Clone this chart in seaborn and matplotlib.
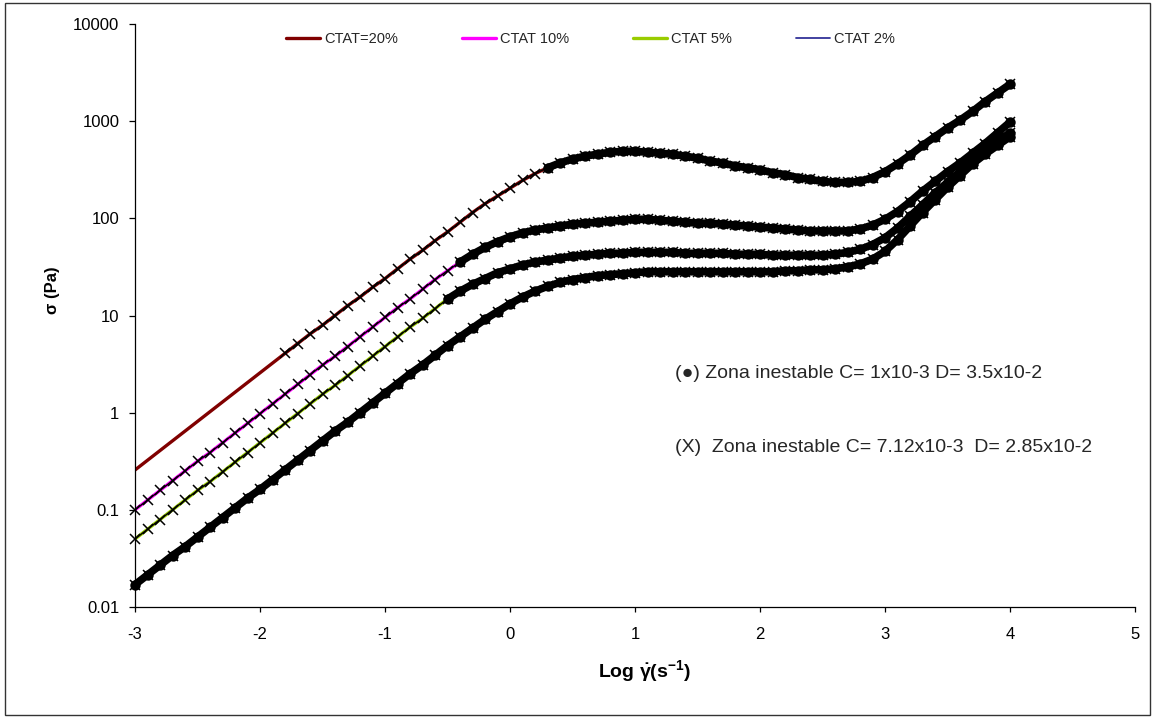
import numpy as np
import pandas as pd
import matplotlib
matplotlib.use('Agg')
import matplotlib.pyplot as plt
import seaborn as sns
from matplotlib.patches import Rectangle
from matplotlib.ticker import FixedLocator, NullLocator

# Log del gradiente de cizalla (eje x), paso 0.1
log_rate = np.round(np.linspace(-3.0, 4.0, 71), 1)

# log10(sigma), de -3.0 a 4.0
log_sigma_20 = [-0.59, -0.49, -0.39, -0.29, -0.19, -0.09, 0.01, 0.11, 0.21, 0.31,
                0.41, 0.51, 0.61, 0.71, 0.81, 0.90, 1.00, 1.10, 1.19, 1.29,
                1.38, 1.48, 1.58, 1.67, 1.77, 1.86, 1.96, 2.06, 2.15, 2.23,
                2.31, 2.39, 2.46, 2.52, 2.57, 2.61, 2.64, 2.66, 2.68, 2.69,
                2.69, 2.68, 2.67, 2.66, 2.64, 2.62, 2.59, 2.57, 2.54, 2.52,
                2.50, 2.47, 2.45, 2.42, 2.40, 2.38, 2.37, 2.37, 2.38, 2.42,
                2.48, 2.56, 2.65, 2.75, 2.84, 2.93, 3.01, 3.10, 3.20, 3.29,
                3.38]
log_sigma_10 = [-1.00, -0.90, -0.80, -0.70, -0.60, -0.50, -0.41, -0.31, -0.21, -0.11,
                -0.01, 0.09, 0.19, 0.29, 0.39, 0.49, 0.58, 0.68, 0.78, 0.88,
                0.98, 1.08, 1.17, 1.27, 1.37, 1.46, 1.55, 1.63, 1.70, 1.76,
                1.81, 1.85, 1.88, 1.90, 1.92, 1.94, 1.95, 1.96, 1.97, 1.98,
                1.99, 1.99, 1.98, 1.97, 1.96, 1.95, 1.95, 1.94, 1.93, 1.92,
                1.91, 1.90, 1.89, 1.88, 1.87, 1.87, 1.87, 1.87, 1.89, 1.93,
                1.99, 2.07, 2.17, 2.28, 2.38, 2.48, 2.57, 2.67, 2.77, 2.88,
                2.99]
log_sigma_5 = [-1.30, -1.20, -1.10, -1.00, -0.90, -0.80, -0.71, -0.61, -0.51, -0.41,
               -0.31, -0.21, -0.11, -0.01, 0.09, 0.19, 0.28, 0.38, 0.48, 0.58,
               0.68, 0.78, 0.88, 0.97, 1.07, 1.17, 1.25, 1.32, 1.38, 1.44,
               1.48, 1.52, 1.55, 1.57, 1.59, 1.61, 1.62, 1.63, 1.64, 1.64,
               1.65, 1.65, 1.65, 1.65, 1.64, 1.64, 1.64, 1.64, 1.63, 1.63,
               1.63, 1.62, 1.62, 1.62, 1.62, 1.62, 1.63, 1.65, 1.68, 1.73,
               1.80, 1.90, 2.02, 2.14, 2.26, 2.37, 2.48, 2.59, 2.69, 2.79,
               2.88]
log_sigma_2 = [-1.77, -1.67, -1.57, -1.47, -1.38, -1.28, -1.18, -1.08, -0.98, -0.88,
               -0.79, -0.69, -0.59, -0.49, -0.39, -0.29, -0.19, -0.10, 0.00, 0.10,
               0.20, 0.30, 0.40, 0.49, 0.59, 0.69, 0.78, 0.87, 0.96, 1.04,
               1.12, 1.19, 1.25, 1.30, 1.34, 1.37, 1.39, 1.41, 1.42, 1.43,
               1.44, 1.45, 1.45, 1.45, 1.45, 1.45, 1.45, 1.45, 1.45, 1.45,
               1.45, 1.45, 1.46, 1.46, 1.47, 1.47, 1.48, 1.50, 1.53, 1.58,
               1.66, 1.78, 1.92, 2.06, 2.19, 2.32, 2.44, 2.56, 2.66, 2.75,
               2.84]

series_labels = ['CTAT=20%', 'CTAT 10%', 'CTAT 5%', 'CTAT 2%']
series_logs = [log_sigma_20, log_sigma_10, log_sigma_5, log_sigma_2]
series_colors = ['#800000', '#FF00FF', '#99CC00', '#333399']

# desde donde empiezan las series negras (X) y (circulos)
cross_start = [-1.8, -3.0, -3.0, -3.0]
circle_start = [0.3, -0.4, -0.5, -3.0]

y_ticks = [0.01, 0.1, 1, 10, 100, 1000, 10000]
y_tick_labels = ['0.01', '0.1', '1', '10', '100', '1000', '10000']
x_ticks = [-3, -2, -1, 0, 1, 2, 3, 4, 5]

note_circles = '(●) Zona inestable C= 1x10-3 D= 3.5x10-2'
note_crosses = '(X)  Zona inestable C= 7.12x10-3  D= 2.85x10-2'

sns.set_theme(style='white')
plt.rcParams['font.family'] = ['Liberation Sans', 'DejaVu Sans']
plt.rcParams['mathtext.fontset'] = 'custom'
plt.rcParams['mathtext.rm'] = 'Liberation Sans'
plt.rcParams['mathtext.bf'] = 'Liberation Sans:bold'
plt.rcParams['mathtext.it'] = 'Liberation Sans:italic'

W, H = 1154, 717
fig = plt.figure(figsize=(W / 100, H / 100), dpi=100)
ax = fig.add_axes([135 / W, 1 - 607 / H, 1000 / W, 583 / H])

handles = []
for i, lab in enumerate(series_labels):
    df = pd.DataFrame({'log_rate': log_rate, 'sigma': 10 ** np.asarray(series_logs[i])})
    sns.lineplot(data=df, x='log_rate', y='sigma', ax=ax, color=series_colors[i],
                 lw=1.3 if i == 3 else 2.4, estimator=None, sort=False,
                 legend=False, zorder=2)
    handles.append(ax.lines[-1])

    cross = df[df['log_rate'] >= cross_start[i] - 1e-9]
    sns.lineplot(data=cross, x='log_rate', y='sigma', ax=ax, color='black', lw=1.0,
                 marker='x', markersize=7.5, markeredgewidth=1.1, markeredgecolor='black',
                 estimator=None, sort=False, legend=False, zorder=3, clip_on=False)

    circ = df[df['log_rate'] >= circle_start[i] - 1e-9]
    sns.lineplot(data=circ, x='log_rate', y='sigma', ax=ax, color='black', lw=5.5,
                 marker='o', markersize=7.5, markeredgewidth=0, markerfacecolor='black',
                 estimator=None, sort=False, legend=False, zorder=4, clip_on=False)

ax.set_yscale('log')
ax.set_xlim(-3, 5)
ax.set_ylim(0.01, 10000)
ax.yaxis.set_major_locator(FixedLocator(y_ticks))
ax.yaxis.set_minor_locator(NullLocator())
ax.set_yticklabels(y_tick_labels)
ax.set_xticks(x_ticks)
ax.set_xticklabels([str(t) for t in x_ticks])

for s in ['top', 'right']:
    ax.spines[s].set_visible(False)
for s in ['left', 'bottom']:
    ax.spines[s].set_color('black')
    ax.spines[s].set_linewidth(0.9)

ax.tick_params(axis='x', bottom=True, direction='out', length=3.6, width=0.9,
               pad=10.5, labelsize=12, colors='black')
ax.tick_params(axis='y', left=True, direction='out', length=4.3, width=0.9,
               pad=7, labelsize=12, colors='black')

ax.set_xlabel(r'Log $\mathbf{\dot{\gamma}}$(s$^{\mathbf{-1}}$)', fontsize=14,
              fontweight='bold', color='black')
ax.xaxis.set_label_coords(0.51, (607 - 671) / 583)
ax.xaxis.label.set_va('center')
ax.set_ylabel('σ (Pa)', fontsize=12, fontweight='bold', color='black')
ax.yaxis.set_label_coords((53 - 135) / 1000, (607 - 290) / 583)
ax.yaxis.label.set_va('center')

fig.legend(handles, series_labels, loc='center left',
           bbox_to_anchor=(286 / W, 1 - 39 / H), ncol=4, frameon=False,
           fontsize=10.5, handlelength=2.3, handletextpad=0.3,
           columnspacing=4.4, borderpad=0, borderaxespad=0)

fig.text(675 / W, 1 - 373 / H, note_circles, fontsize=14, va='center', ha='left')
fig.text(675 / W, 1 - 447 / H, note_crosses, fontsize=14, va='center', ha='left')

fig.add_artist(Rectangle((5 / W, 2 / H), 1145 / W, 712 / H, transform=fig.transFigure,
                         fill=False, edgecolor='#333333', lw=1))

fig.savefig('out.png', dpi=100)
